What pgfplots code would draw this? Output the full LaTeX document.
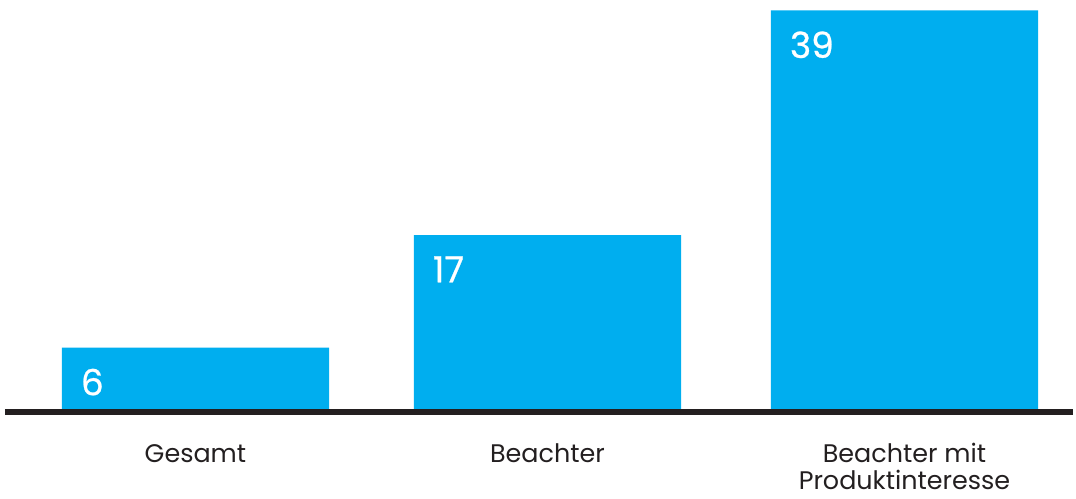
\documentclass[border=0pt]{standalone}
\usepackage{pgfplots}
\pgfplotsset{compat=1.18}
\usepackage{fontspec}
\setmainfont{Poppins}
\newfontfamily\numfont[FakeBold=0.7]{Poppins}
\definecolor{barblue}{HTML}{00AEEF}
\definecolor{txt}{HTML}{231F20}
\begin{document}
\begin{tikzpicture}
\begin{axis}[
  scale only axis,
  width=1076pt, height=410pt,
  xmin=0, xmax=1076, ymin=0, ymax=40,
  axis line style={draw=none},
  major tick length=0pt,
  ytick=\empty,
  xtick={196,549,907},
  xticklabels={\rule{0pt}{22pt}Gesamt,\rule{0pt}{22pt}Beachter,{\rule{0pt}{22pt}Beachter mit\\Produktinteresse}},
  xticklabel style={font=\fontsize{25.5}{28}\selectfont, text=txt, align=center,
    anchor=north, inner sep=0pt, yshift=-31pt},
  clip=false,
  ybar, bar width=268, bar shift=0pt,
  nodes near coords,
  /pgf/number format/assume math mode=true,
  nodes near coords style={font=\numfont\fontsize{36}{36}\selectfont, text=white,
    anchor=north west, inner sep=0pt, xshift=-115pt, yshift=-21pt},
]
\addplot[fill=barblue, draw=none] coordinates {(196,6) (549,17) (907,39)};
\draw[txt, line width=6pt] ([yshift=-3pt]axis cs:5,0) -- ([yshift=-3pt]axis cs:1076,0);
\path ([yshift=-90pt]rel axis cs:0,0) rectangle (rel axis cs:1,1);
\end{axis}
\end{tikzpicture}
\end{document}
